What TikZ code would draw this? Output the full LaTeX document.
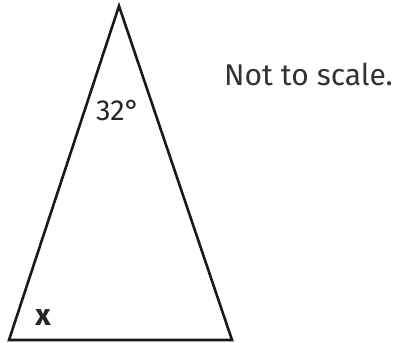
\documentclass[tikz,border=0pt]{standalone}
\usepackage{fontspec}
\setmainfont{Fira Sans}
\usepackage{tikz}
\usetikzlibrary{positioning}
\tikzset{
  % --- triangle and its labels ----------------------------------------------
  edge/.style={draw=black!90,line width=2.6pt,line join=miter},
  anglab/.style={font=\fontsize{29}{33}\selectfont,inner sep=0pt,text=black!85},
  varlab/.style={font=\fontsize{30}{34}\selectfont\bfseries,inner sep=0pt,text=black!85},
  notelab/.style={font=\fontsize{30}{34}\selectfont,inner sep=0pt,text=black!80,anchor=base west},
}
\begin{document}
\begin{tikzpicture}[x=1pt, y=-1pt]
  \useasboundingbox (0,0) rectangle (402,343);

  \coordinate (apex) at (119,6);
  \coordinate (bl)   at (9,340);
  \coordinate (br)   at (232,340);
  \draw[edge] (apex) -- (br) -- (bl) -- cycle;

  \node[anglab] (top) at (118,111) {32°};
  \node[varlab] (x)   at (43,318)  {x};
  \node[notelab] (note) at (224,85) {Not to scale.};
\end{tikzpicture}
\end{document}
